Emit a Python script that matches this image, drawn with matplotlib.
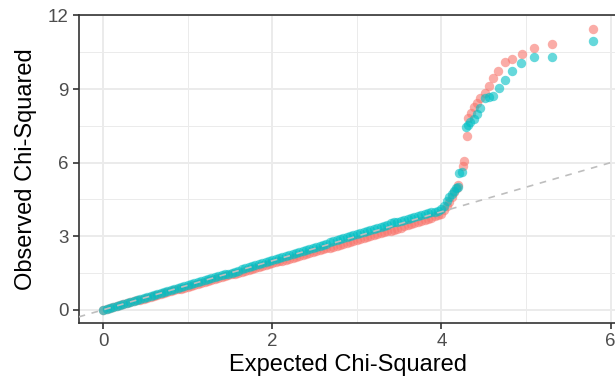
import matplotlib
matplotlib.use("Agg")
import matplotlib.pyplot as plt
from matplotlib.ticker import MultipleLocator

# ---------------- data ----------------
expected_dense = [
    0.00, 0.04, 0.08, 0.12, 0.16, 0.20, 0.24, 0.28, 0.32, 0.36,
    0.40, 0.44, 0.48, 0.52, 0.56, 0.60, 0.64, 0.68, 0.72, 0.76,
    0.80, 0.84, 0.88, 0.92, 0.96, 1.00, 1.04, 1.08, 1.12, 1.16,
    1.20, 1.24, 1.28, 1.32, 1.36, 1.40, 1.44, 1.48, 1.52, 1.56,
    1.60, 1.64, 1.68, 1.72, 1.76, 1.80, 1.84, 1.88, 1.92, 1.96,
    2.00, 2.04, 2.08, 2.12, 2.16, 2.20, 2.24, 2.28, 2.32, 2.36,
    2.40, 2.44, 2.48, 2.52, 2.56, 2.60, 2.64, 2.68, 2.72, 2.76,
    2.80, 2.84, 2.88, 2.92, 2.96, 3.00, 3.04, 3.08, 3.12, 3.16,
    3.20, 3.24, 3.28, 3.32, 3.36, 3.40, 3.44, 3.48, 3.52, 3.56,
    3.60, 3.64, 3.68, 3.72, 3.76, 3.80, 3.84, 3.88, 3.92, 3.96,
    4.00,
]

observed_red_dense = [
    0.00, 0.04, 0.08, 0.11, 0.15, 0.19, 0.23, 0.26, 0.30, 0.34,
    0.38, 0.41, 0.45, 0.49, 0.53, 0.56, 0.60, 0.64, 0.68, 0.71,
    0.75, 0.79, 0.83, 0.86, 0.90, 0.94, 0.98, 1.02, 1.06, 1.09,
    1.13, 1.17, 1.21, 1.25, 1.29, 1.32, 1.36, 1.40, 1.44, 1.48,
    1.52, 1.55, 1.59, 1.63, 1.67, 1.71, 1.75, 1.78, 1.82, 1.86,
    1.90, 1.94, 1.98, 2.01, 2.05, 2.09, 2.13, 2.16, 2.20, 2.24,
    2.28, 2.31, 2.35, 2.39, 2.43, 2.47, 2.50, 2.54, 2.58, 2.62,
    2.66, 2.70, 2.73, 2.77, 2.81, 2.85, 2.89, 2.93, 2.97, 3.00,
    3.04, 3.08, 3.12, 3.16, 3.20, 3.23, 3.27, 3.31, 3.35, 3.40,
    3.44, 3.49, 3.53, 3.58, 3.62, 3.67, 3.71, 3.76, 3.81, 3.86,
    3.92,
]

observed_teal_dense = [
    0.00, 0.04, 0.08, 0.12, 0.16, 0.20, 0.24, 0.28, 0.32, 0.36,
    0.40, 0.44, 0.48, 0.52, 0.56, 0.60, 0.64, 0.68, 0.72, 0.76,
    0.80, 0.84, 0.88, 0.92, 0.96, 1.00, 1.04, 1.08, 1.12, 1.16,
    1.20, 1.24, 1.28, 1.32, 1.36, 1.40, 1.44, 1.48, 1.52, 1.56,
    1.60, 1.65, 1.69, 1.73, 1.77, 1.81, 1.85, 1.90, 1.94, 1.98,
    2.02, 2.06, 2.10, 2.15, 2.19, 2.23, 2.27, 2.32, 2.36, 2.40,
    2.44, 2.49, 2.53, 2.57, 2.62, 2.66, 2.70, 2.75, 2.79, 2.84,
    2.88, 2.92, 2.97, 3.01, 3.06, 3.10, 3.14, 3.18, 3.22, 3.27,
    3.31, 3.35, 3.39, 3.43, 3.47, 3.52, 3.56, 3.60, 3.64, 3.67,
    3.71, 3.75, 3.78, 3.82, 3.86, 3.89, 3.93, 3.97, 4.00, 4.04,
    4.10,
]

expected_red_tail = [4.03, 4.06, 4.09, 4.12, 4.15, 4.18, 4.20, 4.25, 4.27,
                     4.30, 4.32, 4.35, 4.39, 4.42, 4.46, 4.51, 4.56, 4.61,
                     4.67, 4.75, 4.84, 4.95, 5.09, 5.31, 5.79]
observed_red_tail = [4.05, 4.22, 4.40, 4.60, 4.80, 4.98, 5.10, 5.88, 6.08,
                     7.10, 7.82, 8.02, 8.26, 8.45, 8.64, 8.86, 9.14, 9.46,
                     9.72, 10.10, 10.21, 10.41, 10.68, 10.83, 11.45]

expected_teal_tail = [4.03, 4.06, 4.09, 4.12, 4.15, 4.17, 4.19, 4.21, 4.24,
                      4.29, 4.32, 4.34, 4.38, 4.42, 4.46, 4.51, 4.56, 4.61,
                      4.68, 4.75, 4.84, 4.94, 5.09, 5.31, 5.79]
observed_teal_tail = [4.25, 4.42, 4.58, 4.72, 4.85, 4.95, 5.02, 5.59, 5.61,
                      7.44, 7.54, 7.64, 7.80, 8.00, 8.22, 8.62, 8.66, 8.71,
                      9.04, 9.35, 9.74, 10.05, 10.31, 10.32, 10.98]

x_ticks = [0, 2, 4, 6]
y_ticks = [0, 3, 6, 9, 12]
x_label = "Expected Chi-Squared"
y_label = "Observed Chi-Squared"

# ---------------- plot ----------------
plt.rcParams["font.family"] = ["Liberation Sans", "DejaVu Sans"]

fig = plt.figure(figsize=(6.15, 3.86), dpi=100)
ax = fig.add_axes([78.7 / 615, (386 - 323.3) / 386,
                   (616.5 - 78.7) / 615, (323.3 - 15) / 386])

RED = "#F8766D"
TEAL = "#00BFC4"
ALPHA = 0.6
S = 46

ax.set_xlim(-0.289, 6.07)
ax.set_ylim(-0.55, 12.02)

# grid
ax.set_xticks(x_ticks)
ax.set_yticks(y_ticks)
ax.xaxis.set_minor_locator(MultipleLocator(1))
ax.yaxis.set_minor_locator(MultipleLocator(1.5))
ax.grid(which="major", color="#EBEBEB", linewidth=1.4)
ax.grid(which="minor", color="#EBEBEB", linewidth=0.7)
ax.set_axisbelow(True)

# reference line y = x
ax.axline((0, 0), slope=1, color="#BEBEBE", linestyle=(0, (4, 4)),
          linewidth=1.2, zorder=3)

ax.scatter(expected_dense, observed_red_dense, s=S, color=RED, alpha=ALPHA,
           linewidths=0, zorder=2)
ax.scatter(expected_red_tail, observed_red_tail, s=S, color=RED, alpha=ALPHA,
           linewidths=0, zorder=2)
ax.scatter(expected_dense, observed_teal_dense, s=S, color=TEAL, alpha=ALPHA,
           linewidths=0, zorder=2.5)
ax.scatter(expected_teal_tail, observed_teal_tail, s=S, color=TEAL, alpha=ALPHA,
           linewidths=0, zorder=2.5)

for sp in ax.spines.values():
    sp.set_color("#333333")
    sp.set_linewidth(1.2)

ax.tick_params(which="major", length=4, width=1.2, color="#333333",
               labelcolor="#4D4D4D", labelsize=13.5, pad=3)
ax.tick_params(which="minor", length=0)

ax.set_xlabel(x_label, fontsize=17, color="black", labelpad=3)
ax.set_ylabel(y_label, fontsize=17, color="black", labelpad=8)

fig.savefig("out.png", dpi=100)
